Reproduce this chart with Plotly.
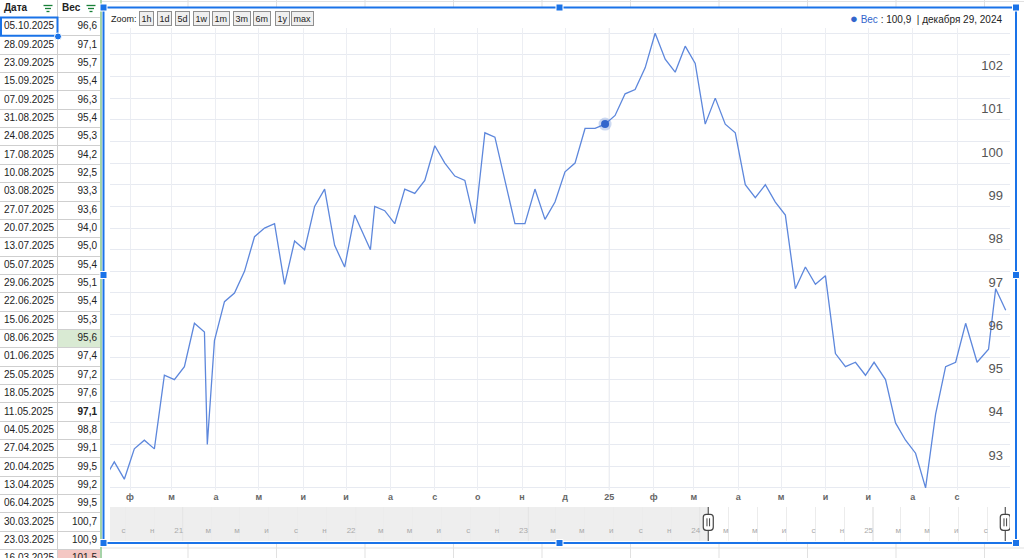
import plotly.graph_objects as go
import pandas as pd

W, H = 1024, 558

dates = [
    "2024-01-14", "2024-01-21", "2024-01-28", "2024-02-04", "2024-02-11", "2024-02-18",
    "2024-02-25", "2024-03-03", "2024-03-10", "2024-03-17", "2024-03-24", "2024-03-26",
    "2024-03-31", "2024-04-07", "2024-04-14", "2024-04-21", "2024-04-28", "2024-05-05",
    "2024-05-12", "2024-05-19", "2024-05-26", "2024-06-02", "2024-06-09", "2024-06-16",
    "2024-06-23", "2024-06-30", "2024-07-07", "2024-07-18", "2024-07-21", "2024-07-28",
    "2024-08-04", "2024-08-11", "2024-08-18", "2024-08-25", "2024-09-01", "2024-09-08",
    "2024-09-15", "2024-09-22", "2024-09-29", "2024-10-06", "2024-10-13", "2024-10-20",
    "2024-10-27", "2024-11-03", "2024-11-10", "2024-11-17", "2024-11-24", "2024-12-01",
    "2024-12-08", "2024-12-15", "2024-12-22", "2024-12-29", "2025-01-05", "2025-01-12",
    "2025-01-19", "2025-01-26", "2025-02-02", "2025-02-09", "2025-02-16", "2025-02-23",
    "2025-03-02", "2025-03-09", "2025-03-16", "2025-03-23", "2025-03-30", "2025-04-06",
    "2025-04-13", "2025-04-20", "2025-04-27", "2025-05-04", "2025-05-11", "2025-05-18",
    "2025-05-25", "2025-06-01", "2025-06-08", "2025-06-15", "2025-06-22", "2025-06-29",
    "2025-07-05", "2025-07-13", "2025-07-20", "2025-07-27", "2025-08-03", "2025-08-10",
    "2025-08-17", "2025-08-24", "2025-08-31", "2025-09-07", "2025-09-15", "2025-09-23",
    "2025-09-28", "2025-10-05",
]
weights = [
    92.7, 93.1, 92.7, 93.4, 93.6, 93.4,
    95.1, 95.0, 95.3, 96.3, 96.1, 93.5,
    95.9, 96.8, 97.0, 97.5, 98.3, 98.5,
    98.6, 97.2, 98.2, 98.0, 99.0, 99.4,
    98.1, 97.6, 98.8, 98.0, 99.0, 98.9,
    98.6, 99.4, 99.3, 99.6, 100.4, 100.0,
    99.7, 99.6, 98.6, 100.7, 100.6, 99.6,
    98.6, 98.6, 99.4, 98.7, 99.1, 99.8,
    100.0, 100.8, 100.8, 100.9, 101.1, 101.6,
    101.7, 102.2, 103.0, 102.4, 102.1, 102.7,
    102.3, 100.9, 101.5, 100.9, 100.7, 99.5,
    99.2, 99.5, 99.1, 98.8, 97.1, 97.6,
    97.2, 97.4, 95.6, 95.3, 95.4, 95.1,
    95.4, 95.0, 94.0, 93.6, 93.3, 92.5,
    94.2, 95.3, 95.4, 96.3, 95.4, 95.7,
    97.1, 96.6,
]

y_ticks = [93, 94, 95, 96, 97, 98, 99, 100, 101, 102]

month_ticks = pd.date_range("2024-02-01", "2025-09-01", freq="MS")
month_labels = ["ф", "м", "а", "м", "и", "и", "а", "с", "о", "н", "д", "25",
                "ф", "м", "а", "м", "и", "и", "а", "с"]

overview_ticks = pd.date_range("2020-09-01", "2025-09-01", freq="2MS")
overview_labels = ["с", "н", "21", "м", "м", "и", "с", "н", "22", "м", "м", "и", "с", "н",
                   "23", "м", "м", "и", "с", "н", "24", "м", "м", "и", "с", "н",
                   "25", "м", "м", "и", "с"]

zoom_buttons = ["1h", "1d", "5d", "1w", "1m", "3m", "6m", "1y", "max"]
ru_months = ["января", "февраля", "марта", "апреля", "мая", "июня", "июля",
             "августа", "сентября", "октября", "ноября", "декабря"]
table_header = ["Дата", "Вес"]

hover_date = "2024-12-29"
green_cell = "2025-06-08"
red_cell = "2025-03-16"
bold_cell = "2025-05-11"
table_rows = 30

view_range = ["2024-01-18", "2025-10-08"]
overview_range = ["2020-07-30", "2025-10-18"]

LINE = "#5d87dc"
BLUE = "#1a73e8"
FONT = "Arial, Liberation Sans"

# table geometry (pixels)
HEAD_H, ROW_H = 17.5, 18.35


def fx(x):
    return x / W


def fy(y):
    return 1 - y / H


def comma(v):
    return f"{v:.1f}".replace(".", ",")


fig = go.Figure()

# main line
fig.add_trace(go.Scatter(x=dates, y=weights, mode="lines",
                         line=dict(color=LINE, width=1.3),
                         hoverinfo="skip", showlegend=False))

hi = dates.index(hover_date)
fig.add_trace(go.Scatter(x=[dates[hi]], y=[weights[hi]], mode="markers",
                         marker=dict(size=13, color="rgba(51,102,204,0.25)"),
                         hoverinfo="skip", showlegend=False))
fig.add_trace(go.Scatter(x=[dates[hi]], y=[weights[hi]], mode="markers",
                         marker=dict(size=8, color="#3366cc"),
                         hoverinfo="skip", showlegend=False))

# empty trace so the overview subplot exists
fig.add_trace(go.Scatter(x=[], y=[], xaxis="x2", yaxis="y2", showlegend=False))

# spreadsheet rows: latest entries first, drawn on their own axes (row index = y)
rows = list(zip(dates, weights))[-table_rows:][::-1]
row_idx = list(range(len(rows)))
col_dates = [pd.Timestamp(d).strftime("%d.%m.%Y") for d, _ in rows]
col_vals = [comma(v) for _, v in rows]
is_bold = [d == bold_cell for d, _ in rows]

tfont = dict(family=FONT, size=10, color="#222")
fig.add_trace(go.Scatter(x=[4] * len(rows), y=row_idx, text=col_dates, mode="text",
                         textposition="middle right", textfont=tfont,
                         xaxis="x3", yaxis="y3", hoverinfo="skip", showlegend=False))
fig.add_trace(go.Scatter(x=[97] * sum(not b for b in is_bold),
                         y=[i for i, b in zip(row_idx, is_bold) if not b],
                         text=[t for t, b in zip(col_vals, is_bold) if not b],
                         mode="text", textposition="middle left", textfont=tfont,
                         xaxis="x3", yaxis="y3", hoverinfo="skip", showlegend=False))
fig.add_trace(go.Scatter(x=[97] * sum(is_bold),
                         y=[i for i, b in zip(row_idx, is_bold) if b],
                         text=[t for t, b in zip(col_vals, is_bold) if b],
                         mode="text", textposition="middle left",
                         textfont=dict(tfont, weight="bold"),
                         xaxis="x3", yaxis="y3", hoverinfo="skip", showlegend=False))
fig.add_trace(go.Scatter(x=[4, 62], y=[-1, -1], text=table_header, mode="text",
                         textposition="middle right",
                         textfont=dict(tfont, weight="bold"),
                         xaxis="x3", yaxis="y3", hoverinfo="skip", showlegend=False))

shapes = []
# spreadsheet grid behind the chart
for cx in [188, 276.5, 365, 453.5, 542, 630.5, 719, 807.5, 896, 984.5]:
    shapes.append(dict(type="line", xref="paper", yref="paper", layer="below",
                       x0=fx(cx), x1=fx(cx), y0=0, y1=1,
                       line=dict(color="#e1e1e1", width=1)))
for ry in [1.5, 548]:
    shapes.append(dict(type="line", xref="paper", yref="paper", layer="below",
                       x0=fx(102), x1=1, y0=fy(ry), y1=fy(ry),
                       line=dict(color="#e1e1e1", width=1)))
shapes.append(dict(type="rect", xref="paper", yref="paper", layer="below",
                   x0=fx(103), x1=fx(1016), y0=fy(543), y1=fy(7),
                   fillcolor="white", line=dict(width=0)))

# coloured cells in the table
for i, (d, _) in enumerate(rows):
    if d in (green_cell, red_cell):
        shapes.append(dict(type="rect", xref="x3", yref="y3", layer="below",
                           x0=57.5, x1=101, y0=i - 0.5, y1=i + 0.5,
                           fillcolor="#d9ead3" if d == green_cell else "#f4c7c3",
                           line=dict(width=0)))

# year boundary in main chart
shapes.append(dict(type="line", xref="x", yref="y domain", layer="below",
                   x0="2025-01-01", x1="2025-01-01", y0=0, y1=1,
                   line=dict(color="#c9c9c9", width=1)))

# overview: shaded part outside the window, year lines, handles
shapes.append(dict(type="rect", xref="x2", yref="y2 domain", layer="below",
                   x0=overview_range[0], x1=view_range[0], y0=0, y1=1,
                   fillcolor="#eeeeee", line=dict(width=0)))
for yr in ["2021-01-01", "2022-01-01", "2023-01-01", "2024-01-01", "2025-01-01"]:
    shapes.append(dict(type="line", xref="x2", yref="y2 domain", layer="below",
                       x0=yr, x1=yr, y0=0, y1=1,
                       line=dict(color="#d6d6d6", width=1)))
for hx in view_range:
    shapes.append(dict(type="line", xref="x2", yref="y2 domain",
                       x0=hx, x1=hx, y0=0, y1=1,
                       line=dict(color="#555", width=1.2)))
    shapes.append(dict(type="path", xref="x2", yref="y2 domain",
                       xsizemode="pixel", ysizemode="pixel", xanchor=hx, yanchor=0.55,
                       path="M -5,-5 Q -5,-8 -2,-8 L 2,-8 Q 5,-8 5,-5 L 5,5 Q 5,8 2,8 "
                            "L -2,8 Q -5,8 -5,5 Z",
                       fillcolor="white", line=dict(color="#444", width=1.2)))
    shapes.append(dict(type="path", xref="x2", yref="y2 domain",
                       xsizemode="pixel", ysizemode="pixel", xanchor=hx, yanchor=0.55,
                       path="M -1.3,-4 L -1.3,4 M 1.3,-4 L 1.3,4",
                       line=dict(color="#444", width=1)))

# selected cell and column marker
shapes.append(dict(type="line", xref="paper", yref="paper",
                   x0=fx(101), x1=fx(101), y0=0, y1=1,
                   line=dict(color="#a6d3a8", width=2)))
shapes.append(dict(type="rect", xref="x3", yref="y3",
                   x0=1, x1=57.5, y0=-0.5, y1=0.5,
                   line=dict(color=BLUE, width=2)))
shapes.append(dict(type="circle", xref="paper", yref="paper",
                   x0=fx(54.5), x1=fx(61.5), y0=fy(40), y1=fy(33),
                   fillcolor=BLUE, line=dict(color="white", width=1)))

# filter icons in the header
for ix in [48, 91]:
    for k, half in enumerate([4.5, 3, 1.5]):
        yy = 5.5 + k * 3
        shapes.append(dict(type="line", xref="paper", yref="paper",
                           x0=fx(ix - half), x1=fx(ix + half), y0=fy(yy), y1=fy(yy),
                           line=dict(color="#188038", width=1.3)))

# chart selection frame and handles
shapes.append(dict(type="rect", xref="paper", yref="paper",
                   x0=fx(103.5), x1=fx(1016), y0=fy(543), y1=fy(7.5),
                   line=dict(color=BLUE, width=2)))
for hx, hy in [(103.5, 7.5), (559.5, 7.5), (1016, 7.5), (103.5, 275), (1016, 275),
               (103.5, 543), (559.5, 543), (1016, 543)]:
    shapes.append(dict(type="rect", xref="paper", yref="paper",
                       x0=fx(hx - 3.5), x1=fx(hx + 3.5), y0=fy(hy + 3.5), y1=fy(hy - 3.5),
                       fillcolor=BLUE, line=dict(color="white", width=1)))

annotations = []
annotations.append(dict(xref="paper", yref="paper", x=fx(109), y=fy(18.5),
                        xanchor="left", yanchor="middle", showarrow=False,
                        text="Zoom:", font=dict(family=FONT, size=9, color="#222")))
bx = [146.5, 164, 182.5, 201, 220.5, 241.5, 261.5, 282.5, 302.5]
for label, cx in zip(zoom_buttons, bx):
    annotations.append(dict(xref="paper", yref="paper", x=fx(cx), y=fy(18.5),
                            xanchor="center", yanchor="middle", showarrow=False,
                            text=label, bgcolor="#efefef", bordercolor="#8f8f8f",
                            borderwidth=1, borderpad=1.5,
                            font=dict(family=FONT, size=9, color="#222")))

hd = pd.Timestamp(dates[hi])
legend_text = (f'<span style="color:#3366cc"><span style="font-size:13px">●</span> Вес</span>'
               f' : {comma(weights[hi])}  | {ru_months[hd.month - 1]} {hd.day}, {hd.year}')
annotations.append(dict(xref="paper", yref="paper", x=fx(1004), y=fy(18.5),
                        xanchor="right", yanchor="middle", showarrow=False,
                        text=legend_text, font=dict(family=FONT, size=10, color="#222")))

n_rows_px = (H - HEAD_H) / ROW_H
fig.update_layout(
    width=W, height=H,
    margin=dict(l=0, r=0, t=0, b=0),
    paper_bgcolor="white", plot_bgcolor="white",
    font=dict(family=FONT),
    showlegend=False,
    shapes=shapes,
    annotations=annotations,
    xaxis=dict(domain=[fx(110), fx(1010)], range=view_range, type="date",
               tickvals=month_ticks, ticktext=month_labels,
               tickfont=dict(size=9, color="#666", weight="bold"),
               showgrid=True, gridcolor="#eceef3", gridwidth=1,
               zeroline=False, showline=False, ticks="", fixedrange=True),
    yaxis=dict(domain=[fy(490), fy(28)], range=[92.45, 103.12], side="right",
               tickvals=y_ticks, ticklabelposition="inside",
               ticklabelshift=-11, ticklabelstandoff=4,
               tickfont=dict(size=13, color="#555"),
               showgrid=True, gridcolor="#e7eaf1", gridwidth=1,
               minor=dict(dtick=0.5, tick0=92.5, showgrid=True,
                          gridcolor="#e7eaf1", gridwidth=1),
               zeroline=False, showline=False, ticks="", fixedrange=True),
    xaxis2=dict(domain=[fx(110), fx(1010)], range=overview_range, type="date",
                anchor="y2", tickvals=overview_ticks, ticktext=overview_labels,
                ticklabelposition="inside left",
                tickfont=dict(size=8, color="#aaaaaa"),
                showgrid=True, gridcolor="#ececec", zeroline=False,
                showline=False, ticks="", fixedrange=True),
    yaxis2=dict(domain=[fy(541), fy(507)], range=[0, 1], anchor="x2",
                showticklabels=False, showgrid=False, zeroline=False,
                fixedrange=True),
    xaxis3=dict(domain=[0, fx(101)], range=[0, 101], anchor="y3",
                tickvals=[57.5], showticklabels=False, showgrid=True,
                gridcolor="#cfcfcf", zeroline=False, showline=False, ticks="",
                fixedrange=True),
    yaxis3=dict(domain=[0, 1],
                range=[n_rows_px - 0.5, -0.5 - HEAD_H / ROW_H], anchor="x3",
                tickvals=[i - 0.5 for i in range(table_rows + 1)],
                showticklabels=False, showgrid=True, gridcolor="#cfcfcf",
                zeroline=False, showline=False, ticks="", fixedrange=True),
)

fig.write_html("out.html", config={"displayModeBar": False},
               post_script="document.body.style.margin='0';")
